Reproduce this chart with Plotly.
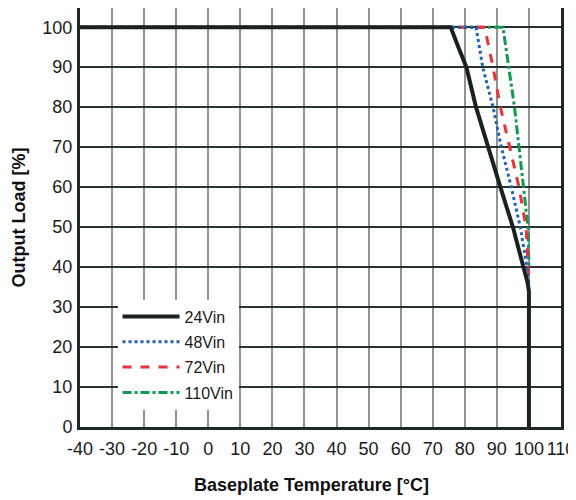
import plotly.graph_objects as go

# Derating curves (temperature in °C, load in %)
t_24 = [-40, 75.6, 78.0, 80.5, 83.5, 87.2, 91.1, 95.0, 98.4, 99.6, 100, 100]
l_24 = [100, 100, 95.0, 90.0, 80.0, 70.0, 60.0, 50.0, 40.0, 36.0, 34.0, 0]

t_48 = [-40, 83.5, 85.6, 88.8, 91.4, 94.5, 97.3, 99.4, 100]
l_48 = [100, 100, 90.0, 80.0, 70.0, 60.0, 50.0, 40.0, 36.0]

t_72 = [-40, 86.2, 88.8, 91.1, 94.0, 96.9, 99.1, 99.9, 100]
l_72 = [100, 100, 90.0, 80.0, 70.0, 60.0, 50.0, 40.0, 37.0]

t_110 = [-40, 91.9, 93.7, 95.5, 96.9, 98.3, 99.7, 100]
l_110 = [100, 100, 90.0, 80.0, 70.0, 60.0, 50.0, 40.0]

x_ticks = list(range(-40, 111, 10))
y_ticks = list(range(0, 101, 10))

TICKFONT = "Liberation Sans, Arial, sans-serif"

fig = go.Figure()
fig.add_trace(go.Scatter(x=t_110, y=l_110, mode="lines", name="110Vin",
                         line=dict(color="#0c9a4e", width=3, dash="dashdot"),
                         legendrank=4, legendgroup="d"))
fig.add_trace(go.Scatter(x=t_72, y=l_72, mode="lines", name="72Vin",
                         line=dict(color="#e8313b", width=3, dash="dash"),
                         legendrank=3, legendgroup="c"))
fig.add_trace(go.Scatter(x=t_48, y=l_48, mode="lines", name="48Vin",
                         line=dict(color="#2160b8", width=3, dash="dot"),
                         legendrank=2, legendgroup="b"))
fig.add_trace(go.Scatter(x=t_24, y=l_24, mode="lines", name="24Vin",
                         line=dict(color="#182321", width=4),
                         legendrank=1, legendgroup="a"))

# The page body adds an 8px offset; the figure size/margins compensate for it.
fig.update_layout(
    width=568, height=492,
    margin=dict(l=72, r=15, t=0, b=73, autoexpand=False),
    paper_bgcolor="white", plot_bgcolor="white",
    font=dict(family=TICKFONT, size=18, color="#1a1a1a"),
    showlegend=True,
    legend=dict(x=0.078, y=0.304, xanchor="left", yanchor="top",
                bgcolor="white", borderwidth=0, tracegroupgap=1.5,
                font=dict(family=TICKFONT, size=16, color="#1a1a1a"),
                itemwidth=57, traceorder="grouped"),
    annotations=[
        dict(text="<b>Baseplate Temperature [°C]</b>", xref="paper", yref="paper",
             x=0.482, y=-0.1384, xanchor="center", yanchor="middle", showarrow=False,
             font=dict(family=TICKFONT, size=18, color="#111")),
        dict(text="<b>Output Load [%]</b>", xref="paper", yref="paper",
             x=-0.1288, y=0.5, xanchor="center", yanchor="middle", showarrow=False,
             textangle=-90, font=dict(family=TICKFONT, size=18, color="#111")),
    ],
)
fig.update_xaxes(
    range=[-40, 110], tickvals=x_ticks, ticktext=[str(v) for v in x_ticks],
    showgrid=True, gridcolor="#8c9391", gridwidth=2,
    showline=True, linecolor="#1c2826", linewidth=3, mirror=True,
    ticks="", zeroline=False, automargin=False, ticklabelstandoff=3,
)
fig.update_yaxes(
    range=[0, 104.8], tickvals=y_ticks, ticktext=[str(v) for v in y_ticks],
    showgrid=True, gridcolor="#27332f", gridwidth=1.5,
    showline=True, linecolor="#1c2826", linewidth=3, mirror=True,
    ticks="", zeroline=False, automargin=False, ticklabelstandoff=1,
)

fig.write_html("out.html")
